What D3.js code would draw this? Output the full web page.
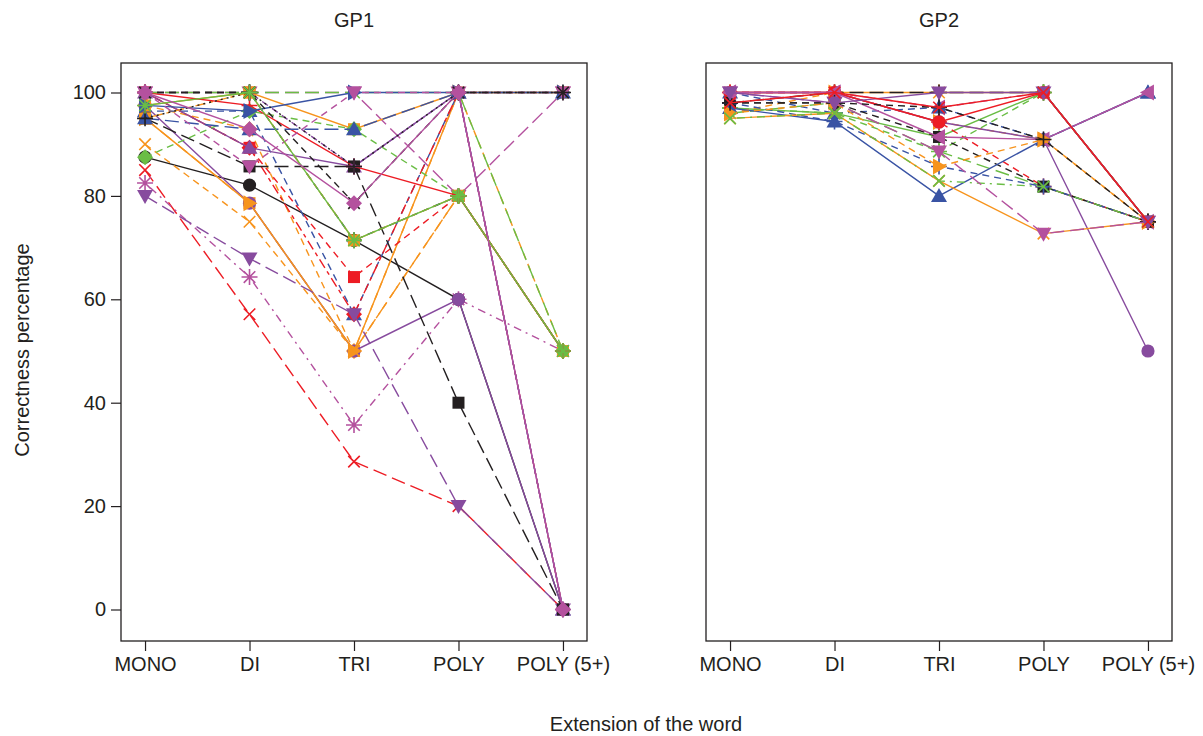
<!DOCTYPE html>
<html>
<head>
<meta charset="utf-8">
<script src="https://cdn.jsdelivr.net/npm/d3@7"></script>
<style>
  html, body { margin: 0; padding: 0; background: #ffffff; }
  svg text { font-family: "Liberation Sans", Arial, Helvetica, sans-serif; fill: #231f20; }
</style>
</head>
<body>
<svg id="chart" width="1203" height="736"></svg>
<script>
// ---------------- DATA ----------------
const categories = ["MONO", "DI", "TRI", "POLY", "POLY (5+)"];
const yTickValues = [0, 20, 40, 60, 80, 100];
const panelTitles = ["GP1", "GP2"];
const yAxisTitle = "Correctness percentage";
const xAxisTitle = "Extension of the word";

// GP1: one row per subject (MONO, DI, TRI, POLY, POLY 5+)
const gp1Values = [
  [100, 100, 100, 80, 100],
  [100, 100, 71.4, 80, 50],
  [87.5, 82.1, 71.4, 60, 0],
  [85, 57.1, 28.6, 20, 0],
  [82.5, 64.3, 35.7, 60, 50],
  [97.5, 92.9, 50, 100, 50],
  [95, 78.6, 50, 80, 50],
  [97.5, 78.6, 50, 60, 0],
  [95, 78.6, 50, 100, 100],
  [90, 75, 50, 80, 50],
  [100, 89.3, 64.3, 80, 50],
  [96.4, 96.4, 57.1, 100, 0],
  [100, 89.3, 57.1, 100, 0],
  [80, 67.9, 57.1, 20, 0],
  [100, 89.3, 85.7, 100, 0],
  [95, 85.7, 85.7, 40, 0],
  [95, 100, 71.4, 80, 50],
  [97.5, 100, 92.9, 100, 100],
  [87.5, 96.4, 92.9, 80, 50],
  [100, 97.5, 85.7, 80, 50],
  [100, 100, 85.7, 100, 0],
  [100, 100, 100, 100, 50],
  [95, 92.9, 92.9, 100, 100],
  [97.5, 96.4, 100, 100, 100],
  [100, 85.7, 100, 100, 100],
  [95, 100, 85.7, 100, 100],
  [100, 100, 78.6, 100, 100],
  [97.5, 100, 71.4, 80, 50],
  [100, 92.9, 78.6, 100, 0]
];
const gp1Colors = ["magenta","black","black","red","magenta","orange","orange","purple","orange","orange",
  "red","blue","red","purple","purple","black","orange","orange","green",
  "red","purple","green","blue","blue","magenta","black","black","green","magenta"];
const gp1LineTypes = ["longdash","dashed","solid","longdash","dotdash","dashed","longdash","solid","solid","dashed",
  "dashed","dashed","twodash","longdash","solid","longdash","twodash","solid","dashed",
  "solid","dashed","longdash","longdash","solid","dashed","dotted","dashed","solid","solid"];
const gp1Markers = ["triDown","plus","circle","x","asterisk","diamond","square","circle","triRight","x",
  "square","triUp","diamond","triDown","triUp","square","square","square","diamond",
  "plus","plus","x","triUp","triRight","triDown","plus","x","asterisk","diamond"];

// GP2
const gp2Values = [
  [100, 100, 100, 100, 75],
  [98, 100, 100, 100, 75],
  [100, 100, 97.1, 100, 75],
  [100, 96, 97.1, 90.9, 100],
  [97, 96, 88.6, 100, 75],
  [97, 96, 91.4, 100, 75],
  [96, 100, 94.3, 90.9, 75],
  [96, 98, 88.6, 81.8, 75],
  [100, 100, 94.3, 81.8, 75],
  [100, 100, 94.3, 90.9, 50],
  [100, 100, 94.3, 100, 75],
  [98, 98, 91.4, 81.8, 75],
  [97, 94.4, 80, 90.9, 100],
  [100, 100, 91.4, 90.9, 100],
  [98, 94.4, 85.7, 81.8, 75],
  [96, 98, 85.7, 90.9, 75],
  [95, 96, 82.9, 72.7, 75],
  [95, 96, 82.9, 81.8, 75],
  [98, 98, 97.1, 90.9, 75],
  [100, 98, 88.6, 72.7, 75],
  [100, 98, 100, 100, 75],
  [98, 100, 97.1, 100, 75]
];
const gp2Colors = ["orange","black","magenta","blue","green","green","orange","green","red","purple",
  "red","black","blue","magenta","blue","orange","orange","green","black","magenta","purple","red"];
const gp2LineTypes = ["solid","longdash","dashed","dashed","dashed","solid","dashed","longdash","dashed","solid",
  "solid","dashed","solid","solid","dashed","dashed","solid","dotdash","dashed","longdash","solid","solid"];
const gp2Markers = ["asterisk","plus","triLeft","triUp","asterisk","asterisk","triRight","x","plus","circle",
  "circle","square","triUp","triLeft","plus","triRight","x","x","plus","triDown","triDown","x"];

// ---------------- STYLE ----------------
const colorMap = {
  black: "#231f20", red: "#ed1c24", green: "#6abd45", blue: "#3953a4",
  orange: "#f7941d", purple: "#874b9e", magenta: "#b4519e"
};
const dashMap = {
  solid: null, dashed: "7,5", dotted: "2,4", dotdash: "2,5,8,5",
  longdash: "14,6", twodash: "4,4,10,4"
};

const svg = d3.select("#chart");
svg.append("rect").attr("width", 1203).attr("height", 736).attr("fill", "#fff");

const plotTop = 63, plotBottom = 641, panelWidth = 466;
const panelLefts = [121, 706];
const y = d3.scaleLinear().domain([0, 100]).range([609.5, 92.5]);
const ink = "#231f20";
const fontStack = "'Liberation Sans', Arial, Helvetica, sans-serif";

function drawMarker(g, type, cx, cy, col) {
  const r = 8;
  const filled = (p) => g.append("path").attr("d", p).attr("transform", `translate(${cx},${cy})`).attr("fill", col);
  const stroked = (p) => g.append("path").attr("d", p).attr("transform", `translate(${cx},${cy})`)
      .attr("fill", "none").attr("stroke", col).attr("stroke-width", 1.6);
  const a = r * 0.72;
  switch (type) {
    case "circle": g.append("circle").attr("cx", cx).attr("cy", cy).attr("r", 6.6).attr("fill", col); break;
    case "square": g.append("rect").attr("x", cx - 6).attr("y", cy - 6).attr("width", 12).attr("height", 12).attr("fill", col); break;
    case "triUp": filled(`M0,${-r} L${r},${r * 0.75} L${-r},${r * 0.75} Z`); break;
    case "triDown": filled(`M0,${r} L${r},${-r * 0.75} L${-r},${-r * 0.75} Z`); break;
    case "triRight": filled(`M${r},0 L${-r * 0.75},${-r} L${-r * 0.75},${r} Z`); break;
    case "triLeft": filled(`M${-r},0 L${r * 0.75},${-r} L${r * 0.75},${r} Z`); break;
    case "diamond": filled(`M0,${-r} L${r},0 L0,${r} L${-r},0 Z`); break;
    case "x": stroked(`M${-a},${-a} L${a},${a} M${-a},${a} L${a},${-a}`); break;
    case "plus": stroked(`M${-r},0 L${r},0 M0,${-r} L0,${r}`); break;
    case "asterisk": stroked(`M${-a},${-a} L${a},${a} M${-a},${a} L${a},${-a} M${-r},0 L${r},0 M0,${-r} L0,${r}`); break;
  }
}

const panels = [
  { values: gp1Values, cols: gp1Colors, ltys: gp1LineTypes, pchs: gp1Markers },
  { values: gp2Values, cols: gp2Colors, ltys: gp2LineTypes, pchs: gp2Markers }
];

panels.forEach((p, pi) => {
  const left = panelLefts[pi];
  const x = d3.scalePoint().domain(categories).range([left, left + panelWidth]).padding(0.23);
  const g = svg.append("g");

  const line = d3.line().x((d, i) => x(categories[i])).y(d => y(d));
  p.values.forEach((vals, si) => {
    const col = colorMap[p.cols[si]];
    const sg = g.append("g");
    sg.append("path").attr("d", line(vals)).attr("fill", "none")
      .attr("stroke", col).attr("stroke-width", 1.4)
      .attr("stroke-dasharray", dashMap[p.ltys[si]]);
    vals.forEach((v, i) => drawMarker(sg, p.pchs[si], x(categories[i]), y(v), col));
  });

  g.append("rect").attr("x", left).attr("y", plotTop).attr("width", panelWidth)
    .attr("height", plotBottom - plotTop).attr("fill", "none").attr("stroke", ink).attr("stroke-width", 1.3);

  const xa = g.append("g").attr("transform", `translate(0,${plotBottom})`)
    .call(d3.axisBottom(x).tickSize(10).tickPadding(6));
  xa.select(".domain").remove();
  xa.selectAll("line").attr("stroke", ink).attr("stroke-width", 1.2);
  xa.selectAll("text").attr("font-size", 20).attr("fill", ink).style("font-family", fontStack);

  g.append("text").attr("x", x("TRI")).attr("y", 27).attr("text-anchor", "middle")
    .attr("font-size", 20).text(panelTitles[pi]);

  if (pi === 0) {
    const ya = g.append("g").attr("transform", `translate(${left},0)`)
      .call(d3.axisLeft(y).tickValues(yTickValues).tickSize(10).tickPadding(5));
    ya.select(".domain").remove();
    ya.selectAll("line").attr("stroke", ink).attr("stroke-width", 1.2);
    ya.selectAll("text").attr("font-size", 20).attr("fill", ink).style("font-family", fontStack);
  }
});

svg.append("text").attr("transform", "translate(29,350) rotate(-90)")
  .attr("text-anchor", "middle").attr("font-size", 20).text(yAxisTitle);
svg.append("text").attr("x", 646).attr("y", 731)
  .attr("text-anchor", "middle").attr("font-size", 20).text(xAxisTitle);
</script>
</body>
</html>
